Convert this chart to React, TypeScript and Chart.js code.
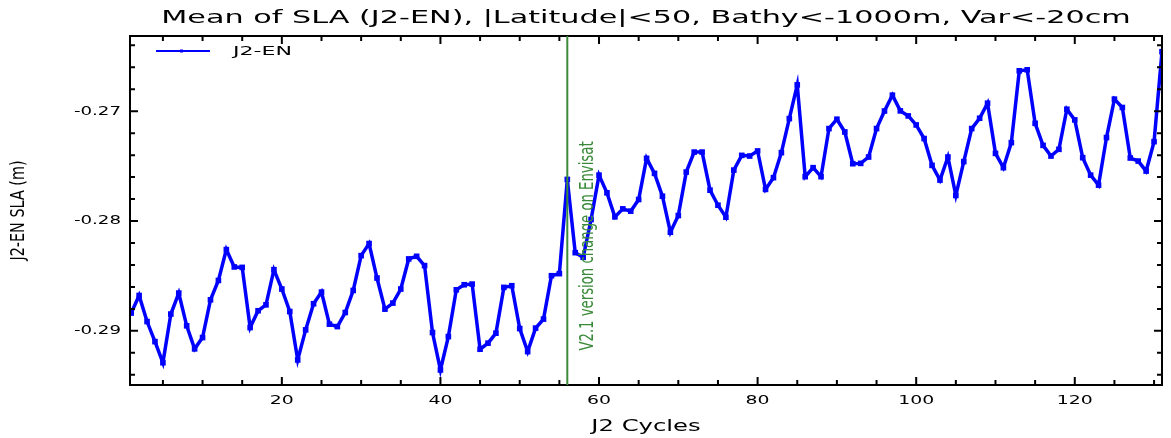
import Chart from "chart.js/auto";
import { useEffect, useRef } from "react";

const cycles = Array.from({ length: 131 }, (_, i) => i + 1);

const slaA = [
  -0.28838, -0.28678, -0.28915, -0.29098, -0.2929, -0.28847, -0.28656, -0.28954, -0.29164, -0.29061,
  -0.28717, -0.28541, -0.2826, -0.28418, -0.28422, -0.2897, -0.28817, -0.28763, -0.28443, -0.28619,
  -0.28824, -0.29265, -0.28991, -0.28753, -0.28647, -0.28939, -0.28961, -0.28833,
];
const slaB = [
  -0.28632, -0.28315, -0.28205, -0.28519, -0.28802, -0.28747, -0.28619, -0.28345, -0.28321, -0.28406,
  -0.29015, -0.29356, -0.29052, -0.28626, -0.2858, -0.28574, -0.29167, -0.29112, -0.29021, -0.28604,
  -0.28589, -0.28979, -0.29189, -0.28975, -0.28893, -0.28498, -0.28479,
];
const slaC = [-0.27621, -0.28288, -0.2833, -0.27986];
const slaD = [
  -0.27582, -0.27743, -0.27962, -0.27889, -0.2791, -0.27804, -0.27429, -0.27566, -0.27774, -0.28102,
  -0.2795, -0.27554, -0.27372, -0.27372, -0.27719, -0.27856, -0.27965, -0.27536, -0.27402, -0.27408,
  -0.27362, -0.27712, -0.27605, -0.27377, -0.27067, -0.2676, -0.27596, -0.27514, -0.27596, -0.27158,
  -0.27073, -0.27189, -0.27478, -0.27475, -0.27417, -0.27158,
];
const slaE = [
  -0.26998, -0.26854, -0.26997, -0.27043, -0.27125, -0.27249, -0.27493, -0.27627, -0.27417, -0.27767,
  -0.27459, -0.27158, -0.27064, -0.26927, -0.27384, -0.27514, -0.27286, -0.26632, -0.26623, -0.2711,
  -0.27311, -0.27408, -0.27347, -0.26982, -0.27079, -0.27423, -0.27582, -0.27673, -0.2724, -0.2689,
  -0.26966, -0.27426, -0.27454, -0.27545, -0.27277, -0.26458,
];
const sla = [...slaA, ...slaB, ...slaC, ...slaD, ...slaE];

const xMajor = [20, 40, 60, 80, 100, 120];
const yMajor = [-0.29, -0.28, -0.27];
const changeCycle = 56;
const changeLabel = "V2.1 version change on Envisat";
const FONT = "'DejaVu Sans', sans-serif";
const NARROW = "'Liberation Sans Narrow', 'DejaVu Sans Condensed', sans-serif";

// text drawn wider than the font, like the original plot's stretched lettering
function wideText(ctx: any, text: string, x: number, y: number, size: number, sx: number, align: string) {
  ctx.save();
  ctx.font = `${size}px ${FONT}`;
  ctx.textBaseline = "middle";
  ctx.textAlign = align;
  ctx.translate(x, y);
  ctx.scale(sx, 1);
  ctx.fillText(text, 0, 0);
  ctx.restore();
}

const decor = {
  id: "decor",
  afterDraw(chart: any) {
    const { ctx, chartArea: a, scales } = chart;
    const x = scales.x, y = scales.y;
    ctx.save();
    ctx.strokeStyle = "#000";
    ctx.lineWidth = 2;
    ctx.strokeRect(a.left, a.top, a.right - a.left, a.bottom - a.top);
    for (let c = 5; c <= 130; c += 5) {
      const px = x.getPixelForValue(c);
      const len = c % 20 === 0 ? 8 : 5;
      ctx.beginPath();
      ctx.moveTo(px, a.bottom); ctx.lineTo(px, a.bottom - len);
      ctx.moveTo(px, a.top); ctx.lineTo(px, a.top + len);
      ctx.stroke();
    }
    for (let k = -147; k <= -132; k++) {
      const py = y.getPixelForValue(k * 0.002);
      if (py < a.top || py > a.bottom) continue;
      const len = k % 5 === 0 ? 8 : 5;
      ctx.beginPath();
      ctx.moveTo(a.left, py); ctx.lineTo(a.left + len, py);
      ctx.moveTo(a.right, py); ctx.lineTo(a.right - len, py);
      ctx.stroke();
    }
    ctx.fillStyle = "#000";
    xMajor.forEach((v) => wideText(ctx, String(v), x.getPixelForValue(v), a.bottom + 16, 13, 1.45, "center"));
    yMajor.forEach((v) => wideText(ctx, v.toFixed(2), a.left - 9, y.getPixelForValue(v), 13, 1.4, "right"));

    const cx = x.getPixelForValue(changeCycle);
    ctx.strokeStyle = "#3a8a3a";
    ctx.lineWidth = 2;
    ctx.beginPath();
    ctx.moveTo(cx, a.top); ctx.lineTo(cx, a.bottom);
    ctx.stroke();
    ctx.save();
    ctx.translate(cx + 21, 246);
    ctx.rotate(-Math.PI / 2);
    ctx.scale(0.92, 1.25);
    ctx.fillStyle = "#3a8a3a";
    ctx.font = `16px ${NARROW}`;
    ctx.textAlign = "center";
    ctx.textBaseline = "middle";
    ctx.fillText(changeLabel, 0, 0);
    ctx.restore();

    ctx.strokeStyle = "#0000ff";
    ctx.lineWidth = 2;
    ctx.beginPath();
    ctx.moveTo(156, 51); ctx.lineTo(210, 51);
    ctx.stroke();
    ctx.fillStyle = "#0000ff";
    ctx.fillRect(180, 49.5, 3, 3);
    ctx.fillStyle = "#000";
    wideText(ctx, "J2-EN", 233, 52, 13, 1.7, "left");
    wideText(ctx, "Mean of SLA (J2-EN), |Latitude|<50, Bathy<-1000m, Var<-20cm", (a.left + a.right) / 2, 18, 18, 1.68, "center");
    wideText(ctx, "J2 Cycles", (a.left + a.right) / 2, 427, 15, 1.62, "center");
    ctx.translate(19, (a.top + a.bottom) / 2);
    ctx.rotate(-Math.PI / 2);
    ctx.scale(1, 1.2);
    ctx.font = `16px ${NARROW}`;
    ctx.textAlign = "center";
    ctx.textBaseline = "middle";
    ctx.fillText("J2-EN SLA (m)", 0, 0);
    ctx.restore();
  },
};

export default function App() {
  const ref = useRef<HTMLCanvasElement>(null);
  useEffect(() => {
    if (!ref.current) return;
    const chart = new Chart(ref.current, {
      type: "line",
      data: {
        labels: cycles,
        datasets: [
          {
            label: "J2-EN",
            data: cycles.map((c, i) => ({ x: c, y: sla[i] })),
            borderColor: "#0000ff",
            backgroundColor: "#0000ff",
            borderWidth: 3.5,
            pointStyle: "rect",
            pointRadius: 1.5,
            tension: 0,
          },
        ],
      },
      options: {
        animation: false,
        responsive: false,
        layout: { padding: { top: 36, right: 9, left: 0, bottom: 0 } },
        plugins: { legend: { display: false }, tooltip: { enabled: false } },
        scales: {
          x: {
            type: "linear",
            min: 0.85,
            max: 131,
            afterFit: (s: any) => { s.height = 53; },
            grid: { display: false },
            border: { display: false },
            ticks: { display: false },
          },
          y: {
            min: -0.29493,
            max: -0.26315,
            afterFit: (s: any) => { s.width = 130; },
            grid: { display: false },
            border: { display: false },
            ticks: { display: false },
          },
        },
      },
      plugins: [decor],
    });
    return () => chart.destroy();
  }, []);
  return (
    <div style={{ position: "fixed", left: 0, top: 0, width: 1171, height: 438, background: "#fff" }}>
      <canvas ref={ref} width={1171} height={438} />
    </div>
  );
}
